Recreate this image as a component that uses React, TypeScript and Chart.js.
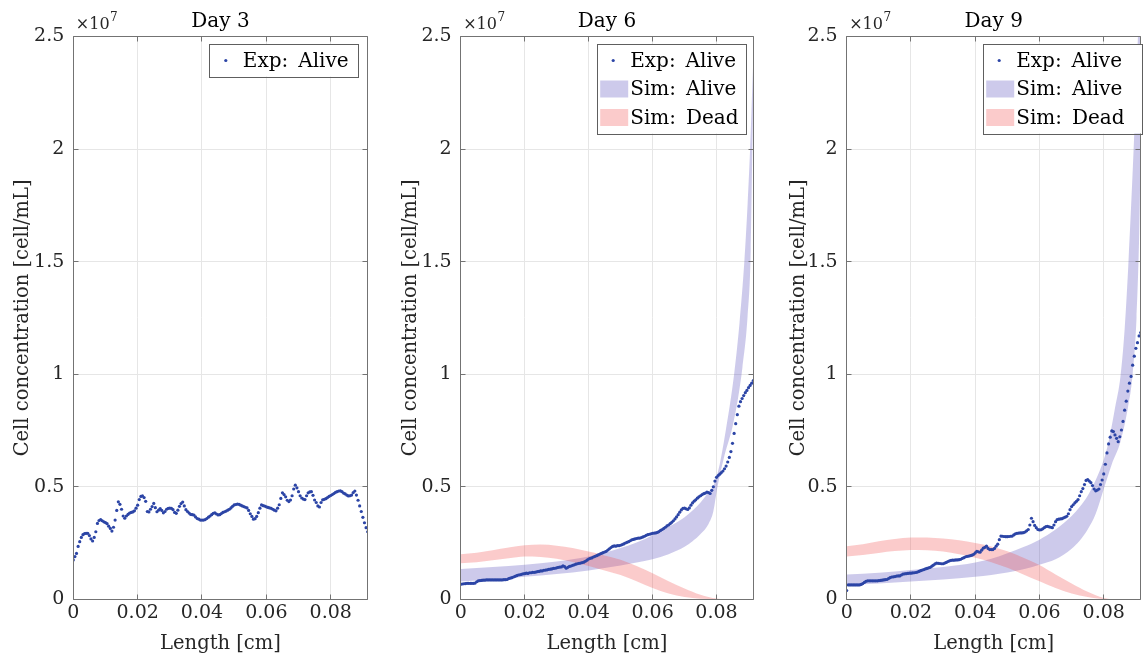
import React, { useEffect, useRef } from "react";
import { Chart, registerables } from "chart.js";

Chart.register(...registerables);

// ---------------- data (concentrations in units of 10^7 cell/mL) ----------------
const xTicks = [0, 0.02, 0.04, 0.06, 0.08];
const yTicks = [0, 0.5, 1, 1.5, 2, 2.5];
const xMaxCm = 0.0915;
const yMax = 2.5;
const lengthStepCm = 0.0005; // experimental sampling step along the length

const day3ExpAlive = [
  0.175, 0.19, 0.204, 0.235, 0.256, 0.275, 0.287, 0.292, 0.293, 0.293,
  0.283, 0.268, 0.259, 0.275, 0.3, 0.337, 0.35, 0.354, 0.349, 0.344,
  0.341, 0.336, 0.325, 0.315, 0.303, 0.32, 0.352, 0.395, 0.433, 0.422,
  0.4, 0.37, 0.36, 0.37, 0.377, 0.383, 0.386, 0.388, 0.393, 0.405,
  0.418, 0.443, 0.457, 0.459, 0.452, 0.435, 0.39, 0.388, 0.4, 0.412,
  0.426, 0.407, 0.389, 0.396, 0.403, 0.395, 0.384, 0.39, 0.4, 0.404,
  0.405, 0.404, 0.398, 0.386, 0.382, 0.396, 0.413, 0.425, 0.432, 0.415,
  0.398, 0.39, 0.383, 0.377, 0.376, 0.374, 0.366, 0.359, 0.356, 0.352,
  0.352, 0.352, 0.354, 0.359, 0.365, 0.37, 0.376, 0.382, 0.384, 0.379,
  0.375, 0.376, 0.381, 0.386, 0.389, 0.392, 0.396, 0.4, 0.406, 0.413,
  0.419, 0.421, 0.423, 0.422, 0.418, 0.415, 0.412, 0.409, 0.406, 0.395,
  0.38, 0.368, 0.356, 0.358, 0.368, 0.385, 0.405, 0.419, 0.416, 0.414,
  0.411, 0.408, 0.406, 0.404, 0.4, 0.396, 0.393, 0.405, 0.42, 0.448,
  0.473, 0.465, 0.455, 0.44, 0.434, 0.441, 0.46, 0.49, 0.507, 0.495,
  0.478, 0.46, 0.45, 0.445, 0.443, 0.46, 0.473, 0.477, 0.478, 0.462,
  0.441, 0.43, 0.415, 0.41, 0.43, 0.442, 0.444, 0.447, 0.452, 0.457,
  0.461, 0.465, 0.47, 0.475, 0.478, 0.481, 0.482, 0.478, 0.472, 0.468,
  0.463, 0.459, 0.46, 0.463, 0.474, 0.481, 0.463, 0.44, 0.415, 0.39,
  0.364, 0.34, 0.318, 0.3,
];

const day6ExpAlive = [
  0.067, 0.068, 0.069, 0.07, 0.071, 0.071, 0.071, 0.071, 0.071, 0.072,
  0.078, 0.082, 0.083, 0.084, 0.085, 0.085, 0.086, 0.086, 0.086, 0.086,
  0.086, 0.086, 0.086, 0.086, 0.086, 0.086, 0.086, 0.087, 0.087, 0.088,
  0.092, 0.094, 0.096, 0.099, 0.102, 0.105, 0.108, 0.109, 0.111, 0.113,
  0.114, 0.116, 0.115, 0.118, 0.118, 0.12, 0.12, 0.121, 0.123, 0.124,
  0.126, 0.126, 0.129, 0.13, 0.131, 0.133, 0.134, 0.135, 0.137, 0.138,
  0.14, 0.142, 0.143, 0.144, 0.149, 0.145, 0.138, 0.142, 0.146, 0.148,
  0.151, 0.153, 0.156, 0.158, 0.16, 0.161, 0.163, 0.165, 0.169, 0.174,
  0.179, 0.182, 0.184, 0.188, 0.191, 0.194, 0.197, 0.201, 0.204, 0.207,
  0.21, 0.213, 0.219, 0.224, 0.23, 0.235, 0.237, 0.236, 0.238, 0.238,
  0.24, 0.243, 0.246, 0.25, 0.253, 0.256, 0.26, 0.264, 0.266, 0.268,
  0.27, 0.272, 0.272, 0.274, 0.277, 0.28, 0.284, 0.287, 0.289, 0.291,
  0.293, 0.294, 0.295, 0.297, 0.301, 0.306, 0.31, 0.315, 0.32, 0.326,
  0.33, 0.336, 0.342, 0.349, 0.357, 0.366, 0.376, 0.387, 0.397, 0.404,
  0.405, 0.402, 0.399, 0.406, 0.418, 0.428, 0.436, 0.442, 0.449, 0.455,
  0.46, 0.465, 0.469, 0.472, 0.476, 0.474, 0.47, 0.484, 0.5, 0.525,
  0.542, 0.55, 0.556, 0.563, 0.57, 0.58, 0.592, 0.61, 0.63, 0.656,
  0.693, 0.737, 0.78, 0.82, 0.858, 0.878, 0.892, 0.905, 0.918, 0.928,
  0.94, 0.95, 0.96, 0.972,
];

const day9ExpAlive = [
  0.039, 0.064, 0.064, 0.064, 0.064, 0.064, 0.064, 0.064, 0.064, 0.066,
  0.07, 0.075, 0.08, 0.082, 0.082, 0.082, 0.082, 0.082, 0.082, 0.082,
  0.083, 0.084, 0.085, 0.086, 0.087, 0.088, 0.092, 0.096, 0.099, 0.1,
  0.101, 0.103, 0.104, 0.104, 0.108, 0.112, 0.113, 0.114, 0.115, 0.116,
  0.116, 0.117, 0.118, 0.119, 0.121, 0.124, 0.127, 0.13, 0.132, 0.135,
  0.137, 0.14, 0.142, 0.147, 0.152, 0.157, 0.161, 0.16, 0.159, 0.158,
  0.158, 0.161, 0.164, 0.168, 0.171, 0.173, 0.174, 0.174, 0.175, 0.175,
  0.176, 0.178, 0.182, 0.185, 0.189, 0.191, 0.192, 0.194, 0.196, 0.2,
  0.206, 0.213, 0.211, 0.209, 0.218, 0.227, 0.231, 0.236, 0.226, 0.221,
  0.221, 0.221, 0.226, 0.236, 0.245, 0.265, 0.281, 0.28, 0.279, 0.278,
  0.278, 0.279, 0.28, 0.281, 0.286, 0.291, 0.293, 0.294, 0.295, 0.295,
  0.296, 0.299, 0.304, 0.31, 0.33, 0.36, 0.345, 0.328, 0.318, 0.31,
  0.308, 0.309, 0.313, 0.318, 0.323, 0.324, 0.322, 0.32, 0.318, 0.33,
  0.345, 0.354, 0.356, 0.357, 0.358, 0.362, 0.365, 0.369, 0.38, 0.398,
  0.412, 0.42, 0.428, 0.435, 0.443, 0.46, 0.478, 0.492, 0.51, 0.528,
  0.532, 0.525, 0.518, 0.505, 0.49, 0.482, 0.485, 0.49, 0.51, 0.53,
  0.557, 0.6, 0.65, 0.69, 0.72, 0.748, 0.745, 0.73, 0.715, 0.7,
  0.722, 0.752, 0.79, 0.84, 0.88, 0.925, 0.96, 0.99, 1.04, 1.08,
  1.115, 1.14, 1.17, 1.185,
];

// Simulated alive band (Day 6)
const day6SimAliveUpperX = [0, 0.01, 0.02, 0.03, 0.04, 0.05, 0.055, 0.06, 0.065, 0.07, 0.0725, 0.075, 0.0775, 0.0792, 0.081, 0.083, 0.0855, 0.0872, 0.0887, 0.0897, 0.0905, 0.091, 0.0915];
const day6SimAliveUpper = [0.135, 0.143, 0.153, 0.168, 0.19, 0.228, 0.252, 0.285, 0.322, 0.365, 0.395, 0.43, 0.475, 0.51, 0.6, 0.76, 1.0, 1.23, 1.5, 1.75, 2.0, 2.2, 2.4];
const day6SimAliveLowerX = [0, 0.01, 0.02, 0.03, 0.04, 0.05, 0.055, 0.06, 0.065, 0.07, 0.0725, 0.075, 0.0775, 0.079, 0.0803, 0.0825, 0.085, 0.0868, 0.0881, 0.0897, 0.0907, 0.0912, 0.0915];
const day6SimAliveLower = [0.079, 0.088, 0.1, 0.112, 0.128, 0.15, 0.163, 0.178, 0.2, 0.233, 0.258, 0.29, 0.335, 0.39, 0.5, 0.64, 0.767, 0.9, 1.03, 1.255, 1.55, 2.0, 2.25];

// Simulated alive band (Day 9)
const day9SimAliveUpperX = [0, 0.01, 0.02, 0.03, 0.04, 0.045, 0.05, 0.055, 0.06, 0.065, 0.07, 0.0725, 0.075, 0.0775, 0.08, 0.0815, 0.0835, 0.0852, 0.0865, 0.0877, 0.0893, 0.0905, 0.0915];
const day9SimAliveUpper = [0.11, 0.118, 0.13, 0.143, 0.163, 0.18, 0.205, 0.232, 0.265, 0.31, 0.37, 0.41, 0.46, 0.53, 0.62, 0.7, 0.85, 0.99, 1.2, 1.5, 2.0, 2.45, 2.8];
const day9SimAliveLowerX = [0, 0.01, 0.02, 0.03, 0.04, 0.045, 0.05, 0.055, 0.06, 0.065, 0.07, 0.0725, 0.075, 0.0775, 0.08, 0.0825, 0.0852, 0.0875, 0.089, 0.0902, 0.091, 0.0915];
const day9SimAliveLower = [0.064, 0.07, 0.079, 0.088, 0.1, 0.108, 0.119, 0.134, 0.154, 0.178, 0.225, 0.26, 0.31, 0.38, 0.49, 0.6, 0.7, 0.85, 1.0, 1.25, 1.6, 2.0];

// Simulated dead band (shared length grid)
const simDeadX = [0, 0.005, 0.01, 0.015, 0.02, 0.025, 0.03, 0.035, 0.04, 0.045, 0.05, 0.055, 0.06, 0.065, 0.07, 0.075, 0.08, 0.085, 0.0915];
const day6SimDeadUpper = [0.2, 0.207, 0.218, 0.23, 0.24, 0.243, 0.238, 0.228, 0.212, 0.195, 0.176, 0.148, 0.116, 0.08, 0.048, 0.02, 0.003, 0, 0];
const day6SimDeadLower = [0.16, 0.165, 0.173, 0.182, 0.19, 0.188, 0.18, 0.166, 0.148, 0.128, 0.108, 0.08, 0.05, 0.026, 0.01, 0.002, 0, 0, 0];
const day9SimDeadUpper = [0.236, 0.245, 0.258, 0.268, 0.274, 0.275, 0.27, 0.262, 0.25, 0.235, 0.213, 0.185, 0.152, 0.11, 0.07, 0.033, 0.006, 0, 0];
const day9SimDeadLower = [0.19, 0.197, 0.206, 0.214, 0.219, 0.218, 0.212, 0.2, 0.185, 0.165, 0.14, 0.11, 0.08, 0.05, 0.026, 0.01, 0.001, 0, 0];

const dayTitles = ["Day 3", "Day 6", "Day 9"];
const legendLabels = ["Exp:\u2002Alive", "Sim:\u2002Alive", "Sim:\u2002Dead"];

// ---------------- styling ----------------
const FONT = "'DejaVu Serif', 'Liberation Serif', serif";
const EXP_COLOR = "#2c45a6";
const ALIVE_FILL = "rgba(88,78,188,0.3)";
const DEAD_FILL = "rgba(242,82,82,0.3)";
const AXIS_COLOR = "#737373";
const GRID_COLOR = "#e6e6e6";
const TICK_COLOR = "#262626";

const expLength = day3ExpAlive.map((_, i) => +(i * lengthStepCm).toFixed(4));
const pts = (xs: number[], ys: number[]) => xs.map((x, i) => ({ x, y: ys[i] }));

type Band = { ux: number[]; uy: number[]; lx: number[]; ly: number[] };
type PanelCfg = {
  title: string;
  exp: number[];
  alive?: Band;
  dead?: Band;
  left: number;
  width: number;
  yAxisWidth: number;
  padRight: number;
  yTitlePad: number;
  legendWidth: number;
};

const panels: PanelCfg[] = [
  { title: dayTitles[0], exp: day3ExpAlive, left: 0, width: 385, yAxisWidth: 73.3, padRight: 17.3, yTitlePad: 11.6, legendWidth: 149 },
  {
    title: dayTitles[1], exp: day6ExpAlive,
    alive: { ux: day6SimAliveUpperX, uy: day6SimAliveUpper, lx: day6SimAliveLowerX, ly: day6SimAliveLower },
    dead: { ux: simDeadX, uy: day6SimDeadUpper, lx: simDeadX, ly: day6SimDeadLower },
    left: 390, width: 380, yAxisWidth: 70.7, padRight: 16.7, yTitlePad: 9.6, legendWidth: 149,
  },
  {
    title: dayTitles[2], exp: day9ExpAlive,
    alive: { ux: day9SimAliveUpperX, uy: day9SimAliveUpper, lx: day9SimAliveLowerX, ly: day9SimAliveLower },
    dead: { ux: simDeadX, uy: day9SimDeadUpper, lx: simDeadX, ly: day9SimDeadLower },
    left: 776, width: 372, yAxisWidth: 70.7, padRight: 7.3, yTitlePad: 11.6, legendWidth: 159,
  },
];

const align = (v: number) => Math.round(v - 0.5) + 0.5;

function makeDecor(p: PanelCfg) {
  return {
    id: "matlabDecor",
    afterDraw(chart: any) {
      const { ctx, chartArea: a, scales } = chart;
      const xs = scales.x;
      const ys = scales.y;
      ctx.save();
      // axes box
      const L = align(a.left), R = align(a.right), T = align(a.top), B = align(a.bottom);
      ctx.strokeStyle = AXIS_COLOR;
      ctx.lineWidth = 1;
      ctx.beginPath();
      ctx.rect(L, T, R - L, B - T);
      // inward tick marks
      const tl = 5;
      xTicks.forEach((v) => {
        const px = align(xs.getPixelForValue(v));
        ctx.moveTo(px, B); ctx.lineTo(px, B - tl);
        ctx.moveTo(px, T); ctx.lineTo(px, T + tl);
      });
      yTicks.forEach((v) => {
        const py = align(ys.getPixelForValue(v));
        ctx.moveTo(L, py); ctx.lineTo(L + tl, py);
        ctx.moveTo(R, py); ctx.lineTo(R - tl, py);
      });
      ctx.stroke();

      // title
      ctx.fillStyle = "#000";
      ctx.font = `20px ${FONT}`;
      ctx.textAlign = "center";
      ctx.textBaseline = "alphabetic";
      ctx.fillText(p.title, (a.left + a.right) / 2, 27);

      // exponent
      ctx.fillStyle = TICK_COLOR;
      ctx.textAlign = "left";
      ctx.font = `16px ${FONT}`;
      const ex = a.left + 2.5;
      ctx.fillText("×10", ex, 29);
      const w10 = ctx.measureText("×10").width;
      ctx.font = `12px ${FONT}`;
      ctx.fillText("7", ex + w10 + 0.5, 21);

      // legend
      const entries: { kind: string; color: string; label: string }[] = [
        { kind: "dot", color: EXP_COLOR, label: legendLabels[0] },
      ];
      if (p.alive) entries.push({ kind: "patch", color: ALIVE_FILL, label: legendLabels[1] });
      if (p.dead) entries.push({ kind: "patch", color: DEAD_FILL, label: legendLabels[2] });
      const rowH = 28.5;
      const lx = a.left + 136.5;
      const ly = a.top + 7.5;
      const lh = 4 + entries.length * rowH;
      ctx.font = `20px ${FONT}`;
      const maxW = Math.max(...entries.map((e) => ctx.measureText(e.label).width));
      const lw = Math.max(p.legendWidth, maxW + 40);
      ctx.fillStyle = "#fff";
      ctx.fillRect(lx, ly, lw, lh);
      ctx.strokeStyle = "#5e5e5e";
      ctx.strokeRect(align(lx), align(ly), Math.round(lw), Math.round(lh));
      entries.forEach((e, i) => {
        const cy = ly + 16.5 + i * rowH;
        if (e.kind === "dot") {
          ctx.fillStyle = e.color;
          ctx.beginPath();
          ctx.arc(lx + 16, cy, 1.6, 0, Math.PI * 2);
          ctx.fill();
        } else {
          ctx.fillStyle = e.color;
          ctx.fillRect(lx + 3, cy - 8.5, 28, 17);
        }
        ctx.fillStyle = "#000";
        ctx.textAlign = "left";
        ctx.textBaseline = "middle";
        ctx.fillText(e.label, lx + 33, cy + 1);
      });
      ctx.restore();
    },
  };
}

function Panel({ p }: { p: PanelCfg }) {
  const ref = useRef<HTMLCanvasElement>(null);
  useEffect(() => {
    if (!ref.current) return;
    const lineBase = {
      borderColor: "rgba(0,0,0,0)",
      borderWidth: 0,
      pointRadius: 0,
      pointHoverRadius: 0,
      cubicInterpolationMode: "monotone",
    };
    const datasets: any[] = [
      {
        label: legendLabels[0],
        data: pts(expLength, p.exp),
        showLine: false,
        pointRadius: 1.6,
        pointHoverRadius: 1.6,
        pointBackgroundColor: EXP_COLOR,
        pointBorderWidth: 0,
        borderColor: EXP_COLOR,
        order: 0,
      },
    ];
    if (p.alive) {
      datasets.push(
        { ...lineBase, label: legendLabels[1], data: pts(p.alive.ux, p.alive.uy), fill: "+1", backgroundColor: ALIVE_FILL, order: 2 },
        { ...lineBase, label: "alive-lower", data: pts(p.alive.lx, p.alive.ly), fill: false, order: 2 }
      );
    }
    if (p.dead) {
      datasets.push(
        { ...lineBase, label: legendLabels[2], data: pts(p.dead.ux, p.dead.uy), fill: "+1", backgroundColor: DEAD_FILL, order: 1 },
        { ...lineBase, label: "dead-lower", data: pts(p.dead.lx, p.dead.ly), fill: false, order: 1 }
      );
    }
    const tickFont = { family: FONT, size: 19 };
    const chart = new Chart(ref.current, {
      type: "line",
      data: { datasets },
      options: {
        animation: false,
        responsive: false,
        maintainAspectRatio: false,
        devicePixelRatio: 1,
        events: [],
        layout: { padding: { top: 36.5, right: p.padRight, left: 0, bottom: 0 } },
        plugins: {
          legend: { display: false },
          title: { display: false },
          tooltip: { enabled: false },
        },
        scales: {
          x: {
            type: "linear",
            min: 0,
            max: xMaxCm,
            afterBuildTicks: (s: any) => { s.ticks = xTicks.map((v) => ({ value: v })); },
            afterFit: (s: any) => { s.height = 62.7; },
            grid: { color: GRID_COLOR, drawTicks: false, lineWidth: 1 },
            border: { display: false },
            ticks: {
              font: tickFont,
              color: TICK_COLOR,
              padding: 2,
              maxRotation: 0,
              autoSkip: false,
              callback: (v: any) => (Number(v) === 0 ? "0" : Number(v).toFixed(2)),
            },
            title: {
              display: true,
              text: "Length [cm]",
              font: { family: FONT, size: 19.5 },
              color: TICK_COLOR,
              padding: { top: 0, bottom: 6 },
            },
          },
          y: {
            type: "linear",
            min: 0,
            max: yMax,
            afterBuildTicks: (s: any) => { s.ticks = yTicks.map((v) => ({ value: v })); },
            afterFit: (s: any) => { s.width = p.yAxisWidth; },
            grid: { color: GRID_COLOR, drawTicks: false, lineWidth: 1 },
            border: { display: false },
            ticks: {
              font: tickFont,
              color: TICK_COLOR,
              padding: 9,
              autoSkip: false,
              callback: (v: any) => String(Number(v)),
            },
            title: {
              display: true,
              text: "Cell concentration [cell/mL]",
              font: { family: FONT, size: 19.5 },
              color: TICK_COLOR,
              padding: { top: p.yTitlePad, bottom: 0 },
            },
          },
        },
      } as any,
      plugins: [makeDecor(p)],
    });
    return () => chart.destroy();
  }, [p]);
  return (
    <canvas
      ref={ref}
      width={p.width}
      height={662}
      style={{ position: "absolute", left: p.left, top: 0, width: p.width, height: 662 }}
    />
  );
}

export default function App() {
  return (
    <div style={{ position: "absolute", left: 0, top: 0, width: 1148, height: 662, background: "#fff", overflow: "hidden" }}>
      {panels.map((p) => (
        <Panel key={p.title} p={p} />
      ))}
    </div>
  );
}
